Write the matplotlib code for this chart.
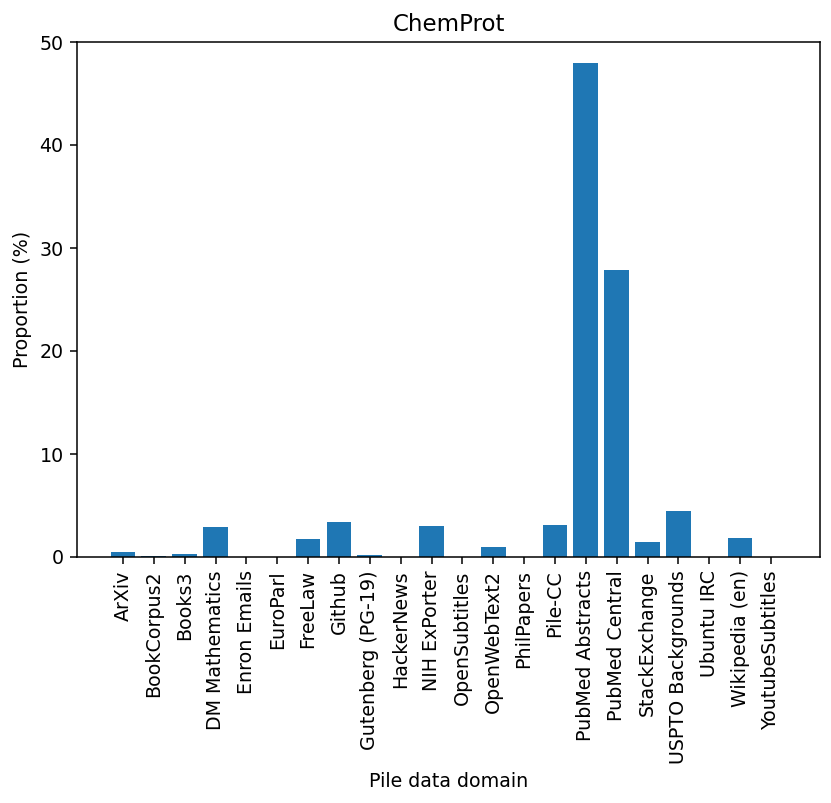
import matplotlib
matplotlib.use("Agg")
import matplotlib.pyplot as plt

domains = ["ArXiv", "BookCorpus2", "Books3", "DM Mathematics", "Enron Emails",
           "EuroParl", "FreeLaw", "Github", "Gutenberg (PG-19)", "HackerNews",
           "NIH ExPorter", "OpenSubtitles", "OpenWebText2", "PhilPapers", "Pile-CC",
           "PubMed Abstracts", "PubMed Central", "StackExchange", "USPTO Backgrounds",
           "Ubuntu IRC", "Wikipedia (en)", "YoutubeSubtitles"]
proportions = [0.46, 0.05, 0.28, 2.93, 0.0, 0.0, 1.75, 3.36, 0.15, 0.0,
               3.0, 0.0, 0.95, 0.0, 3.13, 47.95, 27.9, 1.41, 4.44, 0.0, 1.8, 0.0]

dpi = 137
fig = plt.figure(figsize=(831 / dpi, 803 / dpi), dpi=dpi)
ax = fig.add_axes([77 / 831, 1 - 557 / 803, (820 - 77) / 831, (557 - 42) / 803])
x = list(range(len(domains)))
ax.bar(x, proportions, color="#1f77b4")
ax.set_xticks(x)
ax.set_xticklabels(domains, rotation=90)
ax.set_xlim(-1.49, 22.59)
ax.set_ylim(0, 50)
ax.set_title("ChemProt")
ax.set_xlabel("Pile data domain")
ax.set_ylabel("Proportion (%)")
fig.savefig("out.png", dpi=dpi)
